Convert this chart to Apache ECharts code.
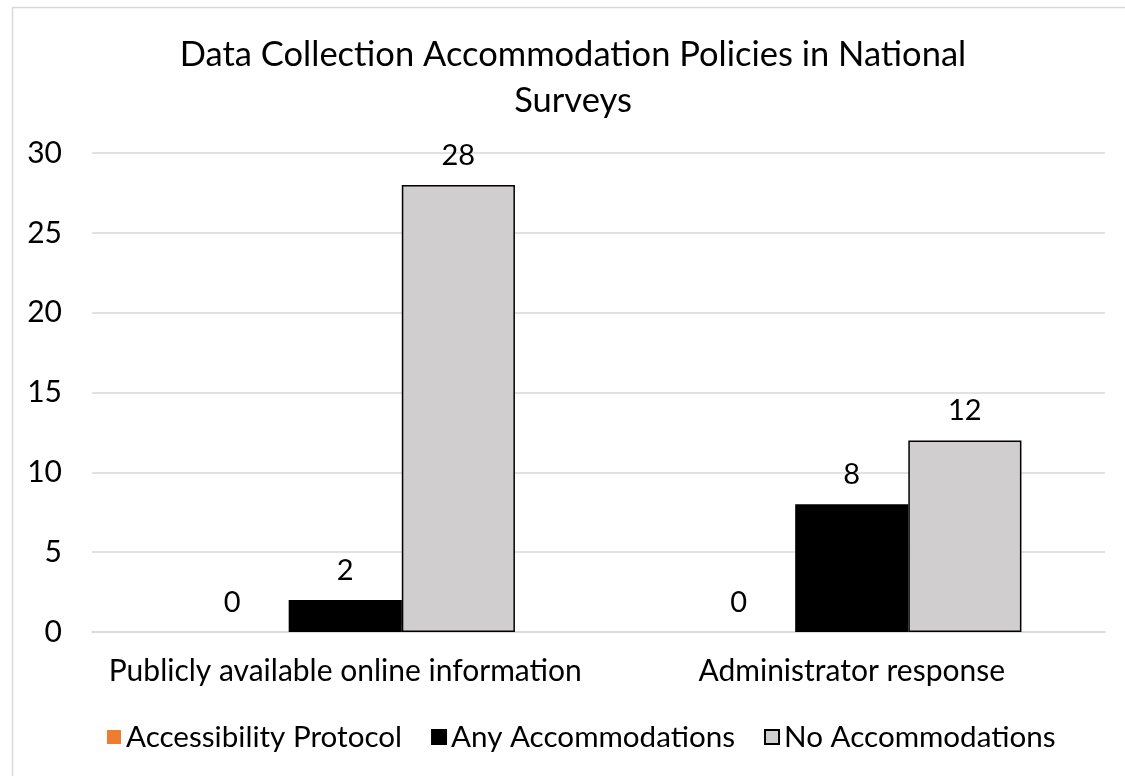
<!DOCTYPE html>
<html>
<head>
<meta charset="utf-8">
<script src="https://cdn.jsdelivr.net/npm/echarts@6/dist/echarts.min.js"></script>
<style>
html,body{margin:0;padding:0;background:#fff;}
#chart{width:1125px;height:776px;}
</style>
</head>
<body>
<div id="chart"></div>
<script>
const categories = ['Publicly available online information', 'Administrator response'];
const seriesNames = ['Accessibility Protocol', 'Any Accommodations', 'No Accommodations'];
const accessibilityProtocol = [0, 0];
const anyAccommodations = [2, 8];
const noAccommodations = [28, 12];
const yTicks = [0, 5, 10, 15, 20, 25, 30];

const FONT = 'Lato';
const chart = echarts.init(document.getElementById('chart'));
const labelStyle = {show: true, position: 'top', color: '#000', fontSize: 29, fontFamily: FONT, distance: 15};
chart.setOption({
  backgroundColor: '#fff',
  animation: false,
  graphic: [{
    type: 'rect', left: 10, top: 5,
    shape: {width: 1200, height: 900},
    style: {fill: 'none', stroke: '#d9d9d9', lineWidth: 1.5},
    silent: true, z: -10
  }],
  title: {
    text: 'Data Collection Accommodation Policies in National\nSurveys',
    left: 568, top: 27, textAlign: 'center',
    textStyle: {fontFamily: FONT, fontSize: 34.5, fontWeight: 'normal', color: '#000', lineHeight: 46}
  },
  legend: {
    data: seriesNames,
    bottom: 19, left: 102,
    itemWidth: 14, itemHeight: 14, itemGap: 29,
    textStyle: {fontFamily: FONT, fontSize: 29.6, color: '#000', padding: [0, 0, 0, 0]},
    icon: 'rect'
  },
  grid: {left: 92, right: 20, top: 153, bottom: 144, containLabel: false},
  xAxis: {
    type: 'category', data: categories,
    axisLine: {lineStyle: {color: '#d9d9d9', width: 1.5}},
    axisTick: {show: false},
    axisLabel: {fontFamily: FONT, fontSize: 30, color: '#000', margin: 24, interval: 0}
  },
  yAxis: {
    type: 'value', min: yTicks[0], max: yTicks[yTicks.length - 1], interval: 5,
    axisLine: {show: false}, axisTick: {show: false},
    axisLabel: {fontFamily: FONT, fontSize: 30, color: '#000', margin: 30},
    splitLine: {lineStyle: {color: '#d9d9d9', width: 1.5}}
  },
  series: [
    {name: seriesNames[0], type: 'bar', data: accessibilityProtocol, barGap: '0%', barCategoryGap: '33%',
     itemStyle: {color: '#ED7D31'}, label: labelStyle},
    {name: seriesNames[1], type: 'bar', data: anyAccommodations, barGap: '0%', barCategoryGap: '33%',
     itemStyle: {color: '#000', borderColor: '#000', borderWidth: 1.5}, label: labelStyle},
    {name: seriesNames[2], type: 'bar', data: noAccommodations, barGap: '0%', barCategoryGap: '33%',
     itemStyle: {color: '#D0CECE', borderColor: '#000', borderWidth: 1.5}, label: labelStyle}
  ]
});
</script>
</body>
</html>
